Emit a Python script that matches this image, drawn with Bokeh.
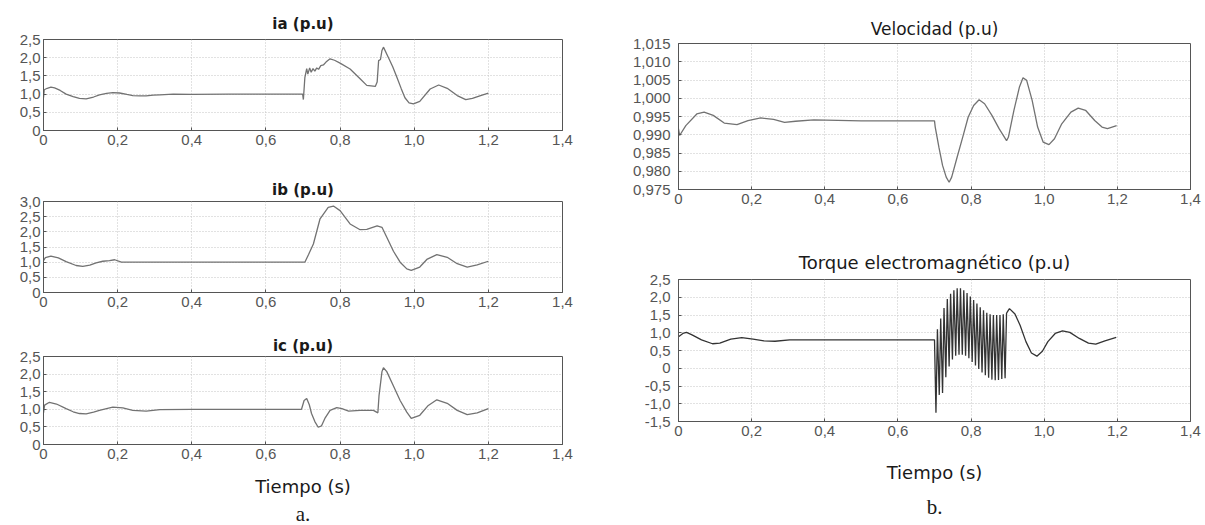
from bokeh.plotting import figure
from bokeh.layouts import row, column
from bokeh.models import Range1d, FixedTicker, CustomJSTickFormatter, Title
from bokeh.embed import file_html
from bokeh.resources import INLINE

# ---------------- data ----------------
x_ticks = [0, 0.2, 0.4, 0.6, 0.8, 1.0, 1.2, 1.4]
ia_ticks = [0, 0.5, 1.0, 1.5, 2.0, 2.5]
ib_ticks = [0, 0.5, 1.0, 1.5, 2.0, 2.5, 3.0]
ic_ticks = [0, 0.5, 1.0, 1.5, 2.0, 2.5]
vel_ticks = [0.975, 0.980, 0.985, 0.990, 0.995, 1.000, 1.005, 1.010, 1.015]
tq_ticks = [-1.5, -1.0, -0.5, 0, 0.5, 1.0, 1.5, 2.0, 2.5]

t_ia = [0.0, 0.002, 0.01, 0.02, 0.03, 0.045, 0.061, 0.08, 0.097, 0.115, 0.135, 0.151, 0.17, 0.187,
        0.205, 0.225, 0.241, 0.26, 0.277, 0.296, 0.314, 0.35, 0.4, 0.5, 0.6, 0.699, 0.701, 0.705,
        0.71, 0.713, 0.718, 0.722, 0.727, 0.732, 0.737, 0.742, 0.748, 0.755, 0.762, 0.773, 0.785,
        0.8, 0.827, 0.854, 0.872, 0.895, 0.9, 0.904, 0.909, 0.913, 0.917, 0.93, 0.942, 0.953,
        0.965, 0.975, 0.986, 0.998, 1.015, 1.043, 1.066, 1.089, 1.116, 1.139, 1.157, 1.179, 1.2]
ia = [0.9, 1.12, 1.16, 1.19, 1.17, 1.1, 1.0, 0.93, 0.88, 0.87, 0.92, 0.98, 1.02, 1.04,
      1.03, 0.99, 0.96, 0.95, 0.95, 0.97, 0.98, 1.0, 0.99, 1.0, 1.0, 1.0, 0.85, 1.45,
      1.7, 1.55, 1.72, 1.6, 1.7, 1.63, 1.72, 1.68, 1.78, 1.8, 1.88, 1.97, 1.93,
      1.85, 1.69, 1.42, 1.24, 1.21, 1.33, 1.92, 1.95, 2.2, 2.29, 2.01, 1.75, 1.47,
      1.15, 0.9, 0.76, 0.73, 0.8, 1.14, 1.25, 1.16, 0.96, 0.85, 0.88, 0.96, 1.03]

t_ib = [0.0, 0.005, 0.02, 0.04, 0.061, 0.088, 0.106, 0.125, 0.142, 0.16, 0.178, 0.192, 0.21,
        0.23, 0.3, 0.5, 0.705, 0.715, 0.728, 0.746, 0.768, 0.782, 0.8, 0.827, 0.854, 0.872,
        0.9, 0.913, 0.926, 0.944, 0.962, 0.98, 0.992, 1.015, 1.034, 1.061, 1.089, 1.116,
        1.143, 1.17, 1.2]
ib = [1.05, 1.15, 1.2, 1.14, 1.02, 0.89, 0.86, 0.9, 0.98, 1.03, 1.05, 1.08, 1.0,
      1.0, 1.0, 1.0, 1.0, 1.25, 1.6, 2.43, 2.81, 2.85, 2.7, 2.26, 2.07, 2.08,
      2.2, 2.15, 1.82, 1.36, 1.0, 0.78, 0.73, 0.84, 1.09, 1.25, 1.16, 0.95,
      0.84, 0.91, 1.03]

t_ic = [0.0, 0.003, 0.016, 0.035, 0.061, 0.08, 0.097, 0.115, 0.135, 0.151, 0.17, 0.187, 0.214,
        0.241, 0.277, 0.314, 0.4, 0.5, 0.6, 0.696, 0.703, 0.71, 0.717, 0.723, 0.732, 0.741,
        0.75, 0.759, 0.773, 0.791, 0.805, 0.823, 0.854, 0.89, 0.902, 0.905, 0.913, 0.917,
        0.926, 0.944, 0.962, 0.98, 0.992, 1.015, 1.038, 1.061, 1.089, 1.116, 1.143, 1.17, 1.2]
ic = [0.9, 1.12, 1.2, 1.15, 1.02, 0.93, 0.88, 0.87, 0.92, 0.97, 1.02, 1.06, 1.04,
      0.97, 0.95, 0.99, 1.0, 1.0, 1.0, 1.0, 1.25, 1.31, 1.13, 0.88, 0.65, 0.49,
      0.53, 0.74, 0.97, 1.05, 1.02, 0.95, 0.97, 0.97, 0.9, 1.38, 2.07, 2.18,
      2.07, 1.66, 1.25, 0.92, 0.74, 0.83, 1.11, 1.27, 1.17, 0.97, 0.85, 0.9, 1.02]

t_vel = [0.0, 0.003, 0.02, 0.05, 0.07, 0.095, 0.125, 0.16, 0.19, 0.225, 0.26, 0.29, 0.32, 0.37,
         0.5, 0.6, 0.7, 0.702, 0.712, 0.722, 0.732, 0.74, 0.747, 0.762, 0.777, 0.792, 0.807,
         0.822, 0.837, 0.857, 0.877, 0.897, 0.902, 0.917, 0.932, 0.942, 0.952, 0.967, 0.982,
         0.997, 1.013, 1.028, 1.048, 1.073, 1.093, 1.113, 1.138, 1.158, 1.173, 1.198]
vel = [0.9916, 0.9898, 0.9925, 0.9957, 0.9962, 0.9953, 0.9932, 0.9928, 0.9939, 0.9946, 0.9942,
       0.9934, 0.9937, 0.9941, 0.9938, 0.9938, 0.9938, 0.9921, 0.9866, 0.9816, 0.9784, 0.977,
       0.9784, 0.9839, 0.9893, 0.9948, 0.998, 0.9996, 0.9985, 0.9953, 0.9916, 0.9884, 0.9893,
       0.9966, 1.003, 1.0056, 1.0049, 0.9994, 0.9921, 0.988, 0.9873, 0.9889, 0.993, 0.9962,
       0.9973, 0.9967, 0.9939, 0.9921, 0.9917, 0.9925]

t_tq = [0.0, 0.012, 0.022, 0.037, 0.063, 0.093, 0.113, 0.143, 0.173, 0.204, 0.234, 0.264, 0.304,
        0.4, 0.5, 0.6, 0.7,
        0.704, 0.708, 0.713, 0.717, 0.722, 0.726, 0.731, 0.735, 0.740, 0.744, 0.749, 0.753,
        0.758, 0.762, 0.767, 0.771, 0.776, 0.780, 0.785, 0.789, 0.794, 0.798, 0.803, 0.807,
        0.812, 0.816, 0.821, 0.825, 0.830, 0.834, 0.839, 0.843, 0.848, 0.852, 0.857, 0.861,
        0.866, 0.870, 0.875, 0.879, 0.884, 0.888, 0.893, 0.897,
        0.9, 0.905, 0.92, 0.934, 0.95, 0.965, 0.98, 0.995, 1.01, 1.03, 1.05, 1.07, 1.096,
        1.121, 1.141, 1.166, 1.197]
torque = [0.89, 0.98, 1.01, 0.94, 0.8, 0.69, 0.71, 0.82, 0.86, 0.82, 0.77, 0.76, 0.8,
          0.8, 0.8, 0.8, 0.8,
          -1.25, 1.1, -0.75, 1.4, -0.70, 1.7, -0.25, 1.95, 0.05, 2.1, 0.25, 2.2,
          0.35, 2.25, 0.38, 2.25, 0.38, 2.2, 0.35, 2.12, 0.28, 2.02, 0.18, 1.92,
          0.08, 1.82, -0.02, 1.72, -0.12, 1.63, -0.2, 1.56, -0.27, 1.52, -0.32, 1.5,
          -0.34, 1.5, -0.33, 1.5, -0.3, 1.52, -0.28, 1.55,
          1.6, 1.68, 1.53, 1.21, 0.75, 0.43, 0.34, 0.48, 0.75, 0.98, 1.05, 1.01, 0.84,
          0.71, 0.68, 0.77, 0.87]

# ---------------- styling helpers ----------------
TICK_FONT = "Liberation Sans"
TITLE_FONT = "DejaVu Sans"


def fmt(decimals):
    return CustomJSTickFormatter(code="""
        if (Math.abs(tick) < 1e-9) { return "0"; }
        return tick.toFixed(%d).replace(".", ",");
    """ % decimals)


def make_fig(width, height, ml, mr, mt, mb, yr, yticks, title, decimals, bold,
             tsize, tstand, ystand):
    p = figure(width=width, height=height, x_range=Range1d(0, 1.4), y_range=Range1d(*yr),
               output_backend="svg", toolbar_location=None,
               min_border_left=ml, min_border_right=mr, min_border_top=mt, min_border_bottom=mb,
               title=title)
    p.title.align = "center"
    p.title.text_font = TITLE_FONT
    p.title.text_font_size = tsize
    p.title.text_font_style = "bold" if bold else "normal"
    p.title.text_color = "#1a1a1a"
    p.title.standoff = tstand
    p.background_fill_color = "white"
    p.border_fill_color = "white"
    p.outline_line_color = "#555555"
    p.outline_line_width = 1
    for ax in (p.xaxis[0], p.yaxis[0]):
        ax.axis_line_color = "#555555"
        ax.major_tick_in = 3
        ax.major_tick_out = 0
        ax.minor_tick_in = 0
        ax.minor_tick_out = 0
        ax.major_tick_line_color = "#555555"
        ax.major_label_text_font = TICK_FONT
        ax.major_label_text_font_size = "15px"
        ax.major_label_text_color = "#555555"
    p.xaxis[0].ticker = FixedTicker(ticks=x_ticks)
    p.xaxis[0].formatter = fmt(1)
    p.xaxis[0].major_label_standoff = 4
    p.yaxis[0].ticker = FixedTicker(ticks=yticks)
    p.yaxis[0].formatter = fmt(decimals)
    p.yaxis[0].major_label_standoff = ystand
    for g in (p.xgrid[0], p.ygrid[0]):
        g.grid_line_color = "#c4c4c4"
        g.grid_line_dash = "1 2"
        g.grid_line_width = 1
    return p


def add_xlabel(p, standoff):
    ax = p.xaxis[0]
    ax.axis_label = "Tiempo (s)"
    ax.axis_label_text_font = TITLE_FONT
    ax.axis_label_text_font_size = "18px"
    ax.axis_label_text_font_style = "normal"
    ax.axis_label_text_color = "#1a1a1a"
    ax.axis_label_standoff = standoff


def add_letter(p, letter, standoff):
    p.add_layout(Title(text=letter, align="center", text_font="Liberation Serif",
                       text_font_size="21px", text_font_style="normal",
                       text_color="#1a1a1a", standoff=standoff), "below")


LINE = "#727272"

# left column
f_ia = make_fig(600, 170, 43, 38, 39, 40, (0, 2.5), ia_ticks, "ia (p.u)", 1, True, "15px", 14, 3)
f_ia.line(t_ia, ia, line_color=LINE, line_width=1.3)

f_ib = make_fig(600, 145, 43, 38, 31, 23, (0, 3.0), ib_ticks, "ib (p.u)", 1, True, "15px", 6, 3)
f_ib.line(t_ib, ib, line_color=LINE, line_width=1.3)

f_ic = make_fig(600, 210, 43, 38, 41, 78, (0, 2.5), ic_ticks, "ic (p.u)", 1, True, "15px", 4, 3)
f_ic.line(t_ic, ic, line_color=LINE, line_width=1.3)
add_xlabel(f_ic, 14)
add_letter(f_ic, "a.", 0)

# right column
f_vel = make_fig(605, 230, 78, 10, 43, 41, (0.975, 1.015), vel_ticks, "Velocidad (p.u)", 3, False,
                 "17px", 9, 8)
f_vel.line(t_vel, vel, line_color=LINE, line_width=1.3)

f_tq = make_fig(605, 295, 72, 15, 49, 100, (-1.5, 2.5), tq_ticks,
                "Torque electromagnético (p.u)", 1, False, "18px", 13, 8)
f_tq.line(t_tq, torque, line_color="#333333", line_width=1.3)
add_xlabel(f_tq, 23)
add_letter(f_tq, "b.", 14)

layout = row(column(f_ia, f_ib, f_ic), column(f_vel, f_tq))

open("out.html", "w").write(file_html(layout, INLINE))
